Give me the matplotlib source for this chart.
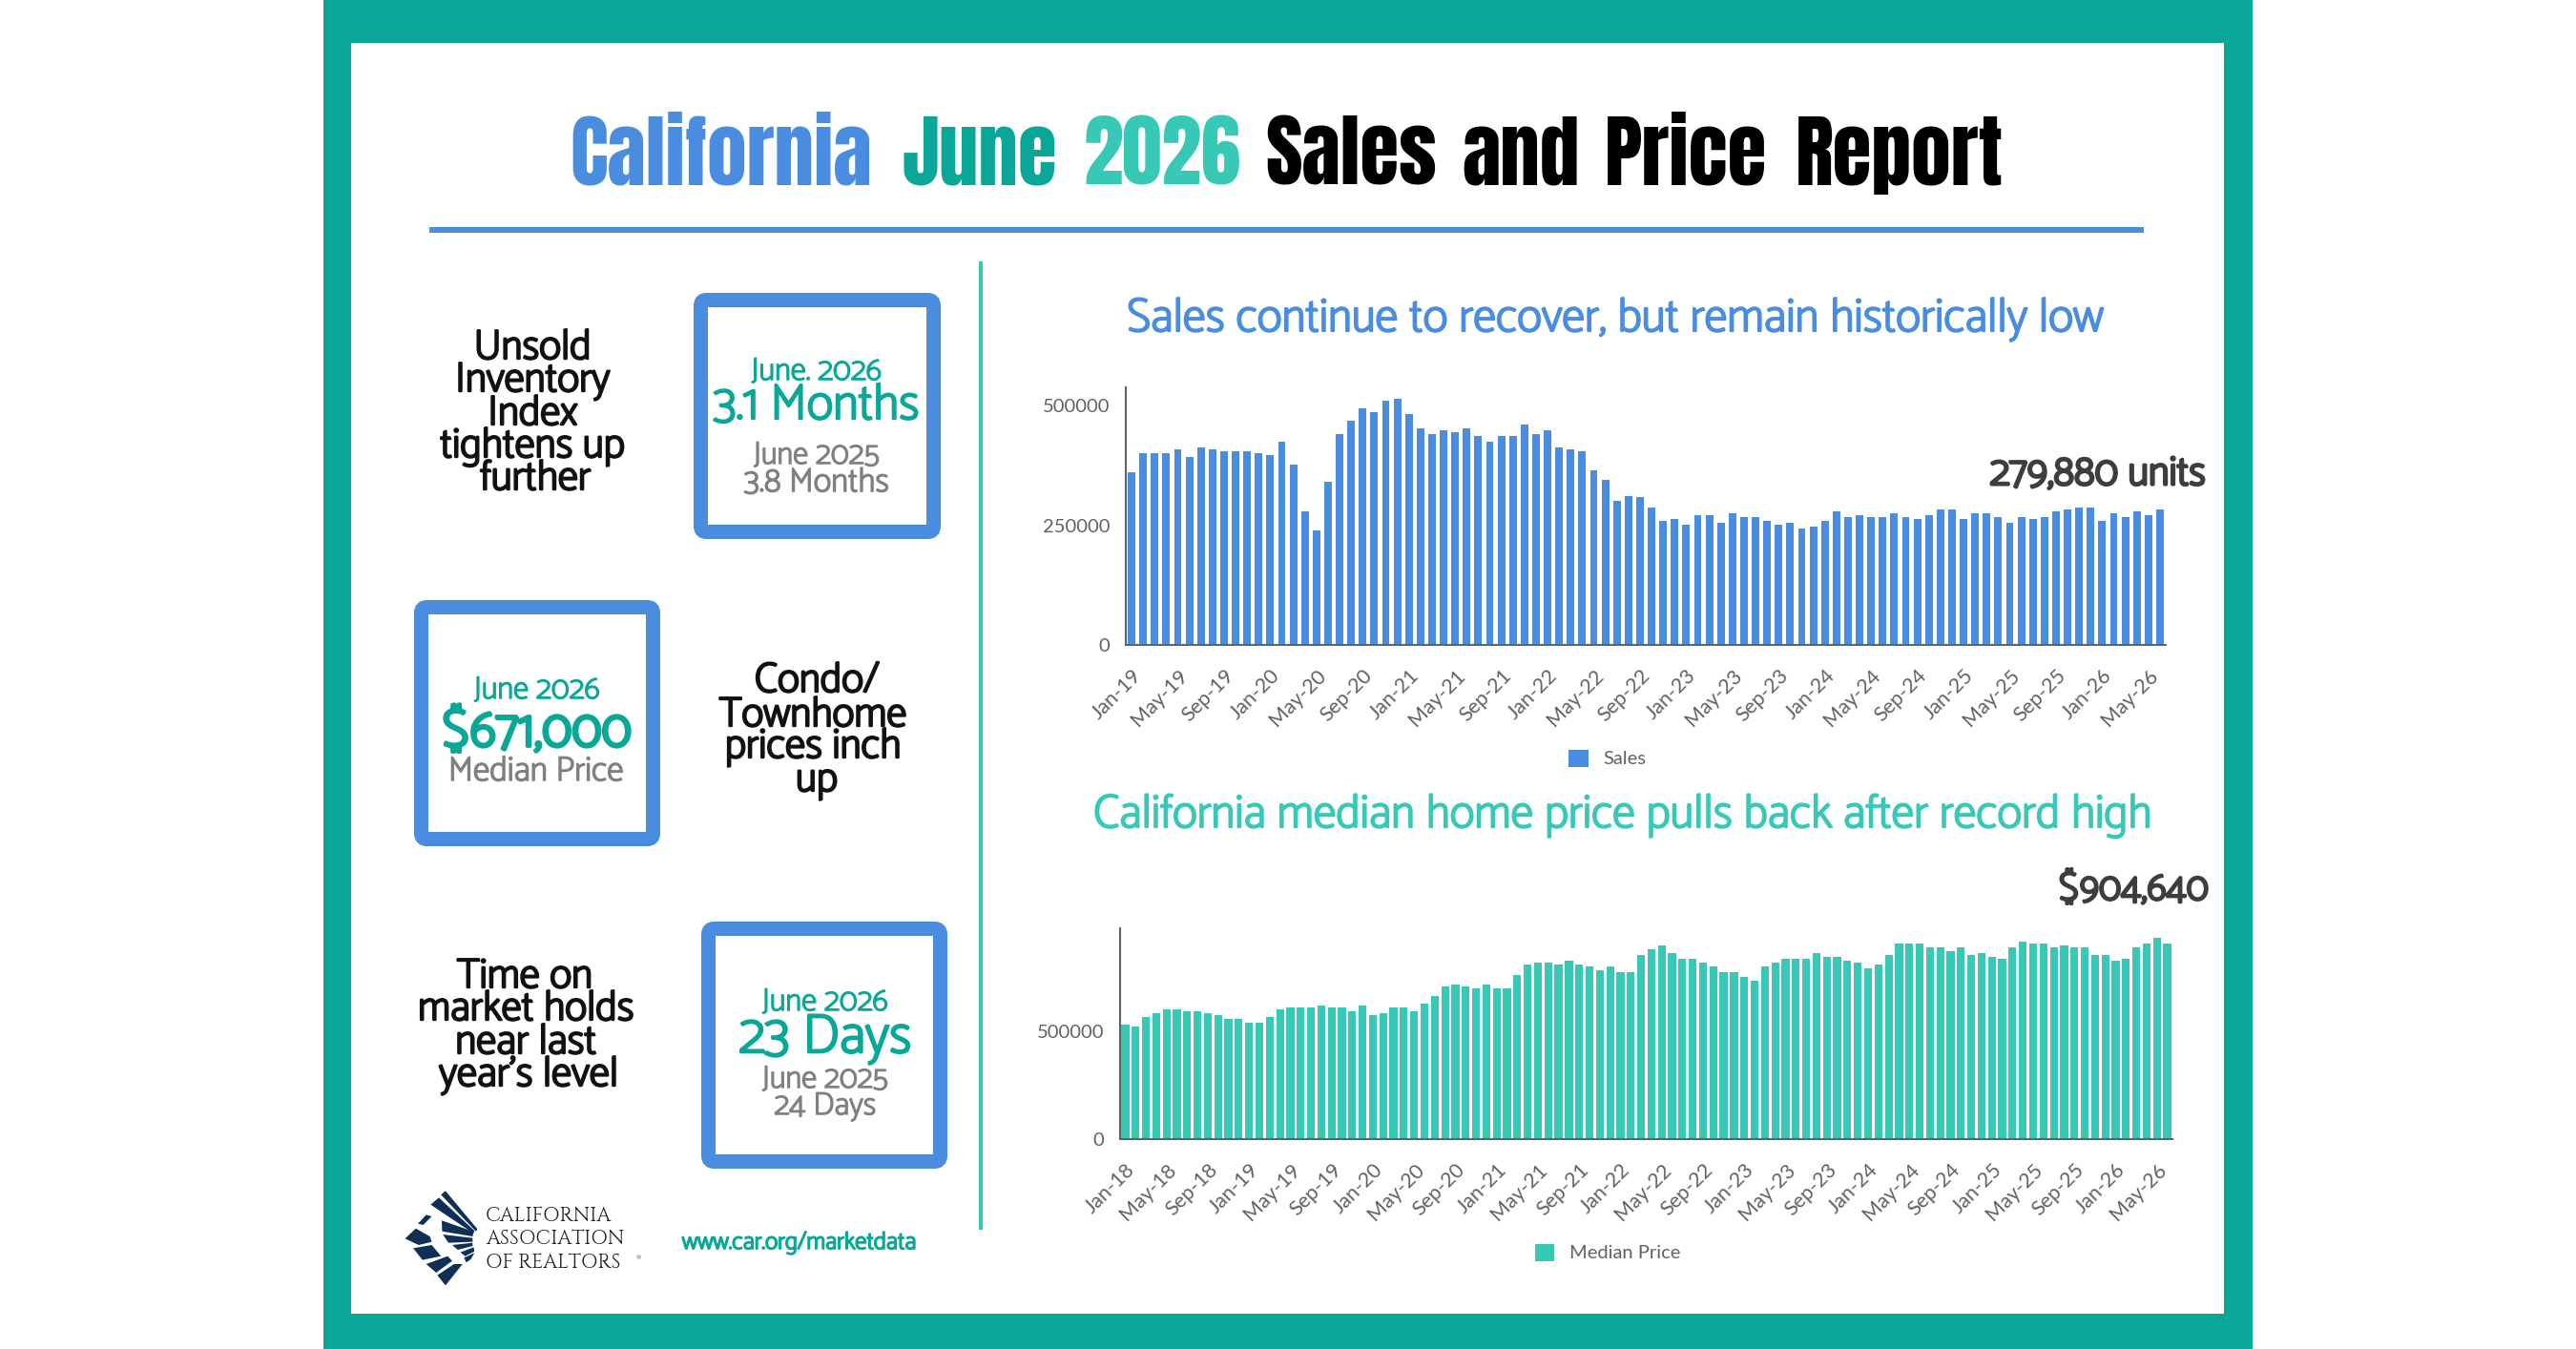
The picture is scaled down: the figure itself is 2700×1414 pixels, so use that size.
"""California June 2026 sales and price report infographic."""

import logging

import matplotlib

matplotlib.use("Agg")
import matplotlib.patheffects as pe
import matplotlib.pyplot as plt
import numpy as np
from matplotlib.patches import FancyBboxPatch, Polygon, Rectangle

logging.getLogger("matplotlib.font_manager").setLevel(logging.ERROR)

TEAL = "#09a797"
AQUA = "#38c9b6"
BLUE = "#4a8de0"
GREY = "#808080"
AXIS = "#5f6368"
DARK = "#3d3d3d"
NAVY = "#0f2f57"
FONT = ["Catamaran", "Lato", "Noto Sans", "DejaVu Sans"]
TICK_FONT = ["Lato", "Noto Sans", "DejaVu Sans"]

sales = [
    360400, 400300, 400300, 400300, 408300, 392300, 412200, 408300, 404300, 404300, 404300, 400300,
    396300, 424900, 376300, 279300, 239400, 339800, 440800, 468800, 493400, 485400, 509300, 513300,
    481400, 452800, 440800, 448800, 444800, 452800, 436800, 424900, 436800, 436800, 460800, 440800,
    448800, 412200, 408300, 404300, 364400, 343800, 299900, 311800, 307900, 287200, 259300, 263300,
    251300, 271300, 271300, 255300, 275300, 267300, 267300, 259300, 251300, 255300, 243400, 247300,
    259300, 279300, 267300, 271300, 267300, 267300, 275300, 267300, 263300, 271300, 283200, 283200,
    263300, 275300, 275300, 267300, 255300, 267300, 263300, 267300, 279300, 283200, 287200, 287200,
    259300, 275300, 267300, 279300, 271300, 283200,
]
sales_ticks = [
    "Jan-19", "May-19", "Sep-19", "Jan-20", "May-20", "Sep-20", "Jan-21", "May-21",
    "Sep-21", "Jan-22", "May-22", "Sep-22", "Jan-23", "May-23", "Sep-23", "Jan-24",
    "May-24", "Sep-24", "Jan-25", "May-25", "Sep-25", "Jan-26", "May-26",
]
sales_yticks = [0, 250000, 500000]

price = [
    532500, 523700, 568100, 585800, 603600, 603600, 594700, 594700, 585800, 576900, 559200, 559200,
    541400, 541400, 568100, 603600, 612400, 612400, 612400, 621300, 612400, 612400, 594700, 621300,
    576900, 585800, 612400, 612400, 594700, 630200, 665700, 711500, 720400, 711500, 702700, 720400,
    702700, 702700, 764800, 810700, 819500, 819500, 810700, 828400, 810700, 801800, 784000, 801800,
    775200, 775200, 855000, 881700, 900900, 863900, 837300, 837300, 819500, 801800, 775200, 775200,
    755900, 738200, 801800, 819500, 837300, 837300, 837300, 863900, 846200, 846200, 828400, 819500,
    792900, 810700, 855000, 909800, 909800, 909800, 890500, 890500, 872800, 890500, 855000, 863900,
    846200, 837300, 890500, 918600, 909800, 909800, 890500, 900900, 890500, 890500, 855000, 855000,
    828400, 837300, 890500, 909800, 936400, 909800,
]
price_ticks = [
    "Jan-18", "May-18", "Sep-18", "Jan-19", "May-19", "Sep-19", "Jan-20", "May-20", "Sep-20",
    "Jan-21", "May-21", "Sep-21", "Jan-22", "May-22", "Sep-22", "Jan-23", "May-23", "Sep-23",
    "Jan-24", "May-24", "Sep-24", "Jan-25", "May-25", "Sep-25", "Jan-26", "May-26",
]
price_yticks = [0, 500000]

W, H = 2700, 1414
fig = plt.figure(figsize=(W / 100, H / 100), dpi=100, facecolor="white")

# page layer in pixel coordinates
page = fig.add_axes([0, 0, 1, 1])
page.set_xlim(0, W)
page.set_ylim(H, 0)
page.axis("off")

page.add_patch(Rectangle((339, 0), 2361 - 339, H, fc=TEAL, ec="none"))
page.add_patch(Rectangle((368, 45), 2331 - 368, 1377 - 45, fc="white", ec="none"))
page.add_patch(Rectangle((450, 238), 2247 - 450, 6, fc=BLUE, ec="none"))
page.add_patch(Rectangle((1026, 274), 4, 1289 - 274, fc=AQUA, ec="none"))

# title, one word at a time because each has its own colour
title_words = [
    ("California", 755.5, BLUE), ("June", 1027, TEAL), ("2026", 1217.5, AQUA),
    ("Sales", 1416, "black"), ("and", 1593.5, "black"), ("Price", 1767, "black"),
    ("Report", 1991, "black"),
]
for word, x, color in title_words:
    page.text(x, 193.5, word, color=color, fontsize=60,
              family=["Anton", "Liberation Sans"], ha="center", va="baseline")


def line(x, y, text, color, size, heavy=0.045, ha="center"):
    # Catamaran only loads in its light cut, a stroke brings it up to the reference weight
    t = page.text(x, y, text, color=color, fontsize=size, family=FONT, ha=ha, va="baseline")
    t.set_path_effects([pe.withStroke(linewidth=size * heavy, foreground=color)])


def box(x0, y0, x1, y1):
    t = 7.5
    page.add_patch(FancyBboxPatch((x0 + t, y0 + t), x1 - x0 - 2 * t, y1 - y0 - 2 * t,
                                  boxstyle="round,pad=0,rounding_size=6",
                                  fc="white", ec=BLUE, lw=15 * 0.72))


box(727, 307, 986, 565)
box(434, 629, 692, 887)
box(735, 966, 993, 1225)

for x, y, t in [(558, 376, "Unsold"), (558, 410, "Inventory"), (558, 445, "Index"),
                (558, 479, "tightens up"), (561, 513, "further"),
                (856, 725, "Condo/"), (852, 761, "Townhome"), (852, 794, "prices inch"),
                (856, 829, "up"),
                (550, 1035, "Time on"), (551, 1069, "market holds"), (551, 1104, "near last"),
                (554, 1138, "year’s level")]:
    line(x, y, t, "#111111", 31.5, heavy=0.055)

line(856, 398, "June. 2026", TEAL, 24)
line(856, 439, "3.1 Months", TEAL, 38)
line(856, 486, "June 2025", GREY, 24)
line(856, 515, "3.8 Months", GREY, 25.5)
line(563, 732, "June 2026", TEAL, 24)
line(563, 782, "$671,000", TEAL, 39.5, heavy=0.07)
line(562, 818, "Median Price", GREY, 26)
line(865, 1059, "June 2026", TEAL, 24)
line(865, 1103, "23 Days", TEAL, 41.5)
line(865, 1140, "June 2025", GREY, 24)
line(865, 1168, "24 Days", GREY, 24)
line(838, 1309, "www.car.org/marketdata", TEAL, 18.3, heavy=0.07)

# chart headings and callouts
line(1693, 347, "Sales continue to recover, but remain historically low", BLUE, 35.6)
line(1700, 867, "California median home price pulls back after record high", AQUA, 35.4)
line(2312, 508, "279,880 units", DARK, 31, heavy=0.07, ha="right")
line(2315, 943, "$904,640", DARK, 29.5, heavy=0.07, ha="right")

# logo mark
logo_shapes = [
    [(160, 97), (172, 85), (258, 205), (254, 212)],
    [(132, 128), (154, 106), (250, 210), (247, 218)],
    [(162, 178), (248, 213), (245, 228), (163, 212)],
    [(165, 222), (245, 233), (245, 245), (180, 248)],
    [(190, 255), (245, 248), (245, 258), (205, 270)],
    [(212, 278), (248, 262), (250, 275), (225, 290)],
    [(222, 295), (250, 280), (240, 300), (228, 310)],
    [(63, 235), (92, 203), (130, 228), (135, 245), (100, 255)],
    [(85, 265), (135, 255), (160, 290), (110, 302)],
    [(120, 315), (178, 290), (190, 305), (147, 342)],
    [(150, 350), (195, 315), (218, 315), (172, 382)],
    [(98, 188), (120, 160), (135, 165), (112, 192)],
]
for shape in logo_shapes:
    pts = [(400 + px / 2.57, 1220 + py / 3) for px, py in shape]
    page.add_patch(Polygon(pts, closed=True, fc=NAVY, ec="none"))
for y, t in [(1280, "CALIFORNIA"), (1304, "ASSOCIATION"), (1329, "OF REALTORS")]:
    page.text(509, y, t, color="#222222", fontsize=15, family=["Cinzel", "Liberation Serif"],
              ha="left", va="baseline")
page.text(667, 1320, "®", color="#444444", fontsize=5, family="Liberation Serif")


def bar_chart(rect_px, values, ticks, yticks, ymax, width, color, label, legend_xy):
    x0, y0, x1, y1 = rect_px
    ax = fig.add_axes([x0 / W, 1 - y1 / H, (x1 - x0) / W, (y1 - y0) / H])
    ax.patch.set_alpha(0)
    x = np.arange(len(values))
    ax.bar(x, values, width=width, color=color, label=label)
    ax.set_xlim(-0.5, len(values) - 0.5)
    ax.set_ylim(0, ymax)
    ax.set_yticks(yticks)
    ax.set_xticks(x[::4])
    ax.set_xticklabels(ticks, rotation=45, ha="right", rotation_mode="anchor",
                       family=TICK_FONT, fontsize=15.5, color=AXIS)
    ax.tick_params(axis="both", length=0)
    ax.tick_params(axis="x", pad=16)
    ax.tick_params(axis="y", pad=12, labelsize=14.5, labelcolor=AXIS)
    for tick in ax.get_yticklabels():
        tick.set_family(TICK_FONT)
    for side in ["top", "right"]:
        ax.spines[side].set_visible(False)
    for side in ["left", "bottom"]:
        ax.spines[side].set_color(AXIS)
        ax.spines[side].set_linewidth(1.5)
    ax.legend(loc="center", bbox_to_anchor=(legend_xy[0] / W, 1 - legend_xy[1] / H),
              bbox_transform=fig.transFigure, frameon=False, handlelength=1.0, handleheight=1.0,
              handletextpad=0.8, prop={"family": TICK_FONT, "size": 14.5}, labelcolor=AXIS)
    return ax


bar_chart((1180, 406, 2270, 676), sales, sales_ticks, sales_yticks, 538000, 0.66, BLUE,
          "Sales", (1685, 795))
bar_chart((1174, 973, 2277, 1194), price, price_ticks, price_yticks, 980000, 0.76, AQUA,
          "Median Price", (1685, 1313))

fig.savefig("out.png", dpi=100)
